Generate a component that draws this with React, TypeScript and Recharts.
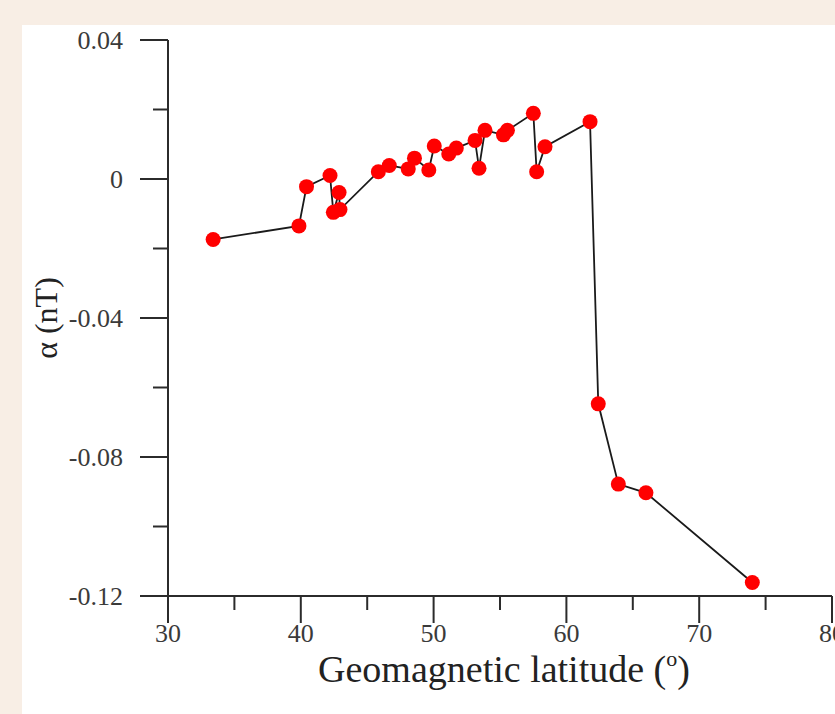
import React from "react";
import { LineChart, Line, XAxis, YAxis } from "recharts";

// geomagnetic latitude (deg) and alpha (nT)
const LATITUDES = [
  33.4, 39.86, 40.43, 42.2, 42.45, 42.88, 42.95, 45.84, 46.66, 48.09, 48.56,
  49.64, 50.05, 51.14, 51.71, 53.12, 53.42, 53.87, 55.26, 55.56, 57.51, 57.76,
  58.39, 61.78, 62.4, 63.91, 65.99, 74.0,
];
const ALPHAS = [
  -0.0174, -0.0135, -0.0022, 0.001, -0.0096, -0.0039, -0.0088, 0.0021, 0.0039,
  0.0029, 0.006, 0.0026, 0.0095, 0.0072, 0.0089, 0.0111, 0.0031, 0.014, 0.0127,
  0.014, 0.0189, 0.0021, 0.0093, 0.0165, -0.0647, -0.0878, -0.0903, -0.1161,
];

const X_TICKS = [30, 35, 40, 45, 50, 55, 60, 65, 70, 75, 80];
const Y_TICKS = [-0.12, -0.1, -0.08, -0.06, -0.04, -0.02, 0, 0.02, 0.04];

const data = LATITUDES.map((lat, i) => ({ lat, alpha: ALPHAS[i] }));

const FONT = '"Liberation Serif", "Times New Roman", serif';
const AXIS = "#2b2b2b";
const TEXT = "#3a3a3a";

function XTick({ x, y, payload }: any) {
  const major = payload.value % 10 === 0;
  return (
    <g>
      <line x1={x} y1={y} x2={x} y2={y + (major ? 27 : 14)} stroke={AXIS} strokeWidth={2} />
      {major && (
        <text x={x} y={y + 46} textAnchor="middle" fontFamily={FONT} fontSize={26} fill={TEXT}>
          {payload.value}
        </text>
      )}
    </g>
  );
}

function YTick({ x, y, payload }: any) {
  const v = payload.value;
  const major = Math.round(v * 100) % 4 === 0;
  return (
    <g>
      <line x1={x} y1={y} x2={x - (major ? 28 : 15)} y2={y} stroke={AXIS} strokeWidth={2} />
      {major && (
        <text x={x - 45} y={y} textAnchor="end" dominantBaseline="central" fontFamily={FONT} fontSize={26} fill={TEXT}>
          {v === 0 ? "0" : String(v)}
        </text>
      )}
    </g>
  );
}

function XTitle({ viewBox }: any) {
  const cx = viewBox.x + viewBox.width / 2 + 4;
  return (
    <text x={cx} y={viewBox.y + 86} textAnchor="middle" fontFamily={FONT} fontSize={38} fill="#222">
      Geomagnetic latitude (<tspan fontSize={22} dy={-16}>o</tspan>
      <tspan dy={16}>)</tspan>
    </text>
  );
}

function YTitle({ viewBox }: any) {
  const cy = viewBox.y + viewBox.height / 2;
  const x = viewBox.x + 35;
  return (
    <text
      x={x}
      y={cy}
      transform={`rotate(-90 ${x} ${cy})`}
      textAnchor="middle"
      fontFamily={FONT}
      fontSize={32}
      fill="#222"
    >
      α (nT)
    </text>
  );
}

export default function App() {
  return (
    <div
      style={{
        position: "fixed",
        left: 0,
        top: 0,
        width: 835,
        height: 714,
        overflow: "hidden",
        background: "#f8eee5",
      }}
    >
      <div style={{ position: "absolute", left: 22, top: 25, right: 0, bottom: 0, background: "#fff" }}>
        <LineChart width={813} height={689} data={data} margin={{ top: 15, right: 3, bottom: 58, left: 0 }}>
          <XAxis
            dataKey="lat"
            type="number"
            domain={[30, 80]}
            ticks={X_TICKS}
            interval={0}
            height={60}
            tickSize={0}
            tickMargin={0}
            tickLine={false}
            axisLine={{ stroke: AXIS, strokeWidth: 2 }}
            tick={<XTick />}
            label={{ content: (p: any) => <XTitle {...p} /> }}
          />
          <YAxis
            type="number"
            domain={[-0.12, 0.04]}
            ticks={Y_TICKS}
            interval={0}
            width={146}
            tickSize={0}
            tickMargin={0}
            tickLine={false}
            axisLine={{ stroke: AXIS, strokeWidth: 2 }}
            tick={<YTick />}
            label={{ content: (p: any) => <YTitle {...p} /> }}
          />
          <Line
            dataKey="alpha"
            type="linear"
            stroke="#1a1a1a"
            strokeWidth={1.8}
            dot={{ r: 7.5, fill: "#ff0000", stroke: "none" }}
            activeDot={false}
            isAnimationActive={false}
          />
        </LineChart>
      </div>
    </div>
  );
}
